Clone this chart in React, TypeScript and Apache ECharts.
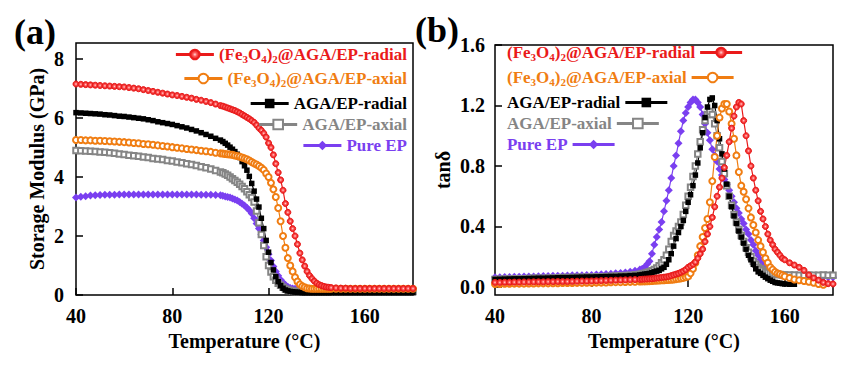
import React, { useEffect, useRef } from 'react';
import * as echarts from 'echarts';

// ---------- data ----------
const tempsA = [40,42,44,46,48,50,52,54,56,58,60,62,64,66,68,70,72,74,76,78,80,82,84,86,88,90,92,94,96,98,100,
  101,102,103,104,105,106,107,108,109,110,111,112,113,114,115,116,117,118,119,120,121,122,123,124,125,126,127,128,129,130,131,132,133,134,135,136,137,138,139,140,141,142,143,144,145,146,
  148,150,152,154,156,158,160,162,164,166,168,170,172,174,176,178,180];

const modFeRadial = [7.15,7.14,7.13,7.12,7.11,7.1,7.09,7.08,7.07,7.06,7.05,7.03,7.01,6.99,6.96,6.93,6.9,6.87,6.84,6.81,6.78,6.76,6.73,6.7,6.67,6.63,6.6,6.56,6.52,6.47,6.42,
  6.4,6.37,6.34,6.31,6.28,6.25,6.21,6.17,6.12,6.07,
  6.02,5.97,5.91,5.85,5.76,5.66,5.58,5.48,5.35,5.15,
  5.0,4.75,4.45,4.15,3.9,3.55,3.1,2.8,2.5,2.25,
  2.0,1.72,1.42,1.19,0.98,0.8,0.66,0.56,0.47,0.4,
  0.35,0.32,0.29,0.27,0.26,0.25,
  0.24,0.23,0.23,0.22,0.22,0.22,0.22,0.22,0.22,0.22,0.22,0.22,0.22,0.22,0.22,0.22,0.22];

const modFeAxial = [5.25,5.25,5.24,5.24,5.23,5.23,5.22,5.21,5.2,5.19,5.18,5.17,5.15,5.14,5.12,5.11,5.09,5.07,5.05,5.03,5.01,4.99,4.97,4.95,4.93,4.91,4.89,4.87,4.85,4.82,4.8,
  4.79,4.78,4.77,4.76,4.75,4.73,4.71,4.69,4.66,4.63,
  4.6,4.56,4.51,4.46,4.42,4.37,4.31,4.24,4.12,4.0,
  3.8,3.58,3.32,2.95,2.5,2.0,1.6,1.25,1.0,0.8,
  0.6,0.46,0.36,0.3,0.26,0.23,0.22,0.21,0.21,0.21,
  0.21,0.21,0.21,0.21,0.21,0.21,
  0.21,0.21,0.21,0.21,0.21,0.21,0.21,0.21,0.21,0.21,0.21,0.21,0.21,0.21,0.21,0.21,0.21];

const modAgaRadial = [6.18,6.17,6.16,6.15,6.14,6.13,6.11,6.1,6.08,6.06,6.05,6.03,6.01,5.99,5.97,5.94,5.91,5.87,5.84,5.81,5.78,5.74,5.7,5.66,5.61,5.56,5.5,5.44,5.38,5.31,5.25,
  5.2,5.14,5.08,5.01,4.94,4.86,4.77,4.66,4.52,4.38,
  4.23,4.02,3.78,3.52,3.25,2.98,2.6,2.25,1.85,1.45,
  1.1,0.85,0.62,0.45,0.32,0.23,0.17,0.14,0.12,0.11,
  0.1,0.09,0.09,0.08,0.08,0.08,0.08,0.08,0.08,0.08,
  0.08,0.08,0.08,0.08,0.08,0.08,
  0.08,0.08,0.08,0.08,0.08,0.08,0.08,0.08,0.08,0.08,0.08,0.08,0.08,0.08,0.08,0.08,0.08];

const modAgaAxial = [4.9,4.89,4.88,4.87,4.86,4.85,4.84,4.82,4.8,4.78,4.76,4.74,4.72,4.7,4.68,4.66,4.63,4.61,4.59,4.56,4.54,4.51,4.48,4.45,4.42,4.39,4.35,4.31,4.27,4.22,4.17,
  4.14,4.1,4.06,4.0,3.94,3.88,3.82,3.75,3.68,3.6,
  3.5,3.4,3.3,3.15,2.85,2.45,2.05,1.68,1.3,1.0,
  0.78,0.62,0.5,0.4,0.33,0.26,0.2,0.17,0.15,0.13,
  0.12,0.12,0.12,0.12,0.12,0.12,0.12,0.12,0.12,0.12,
  0.12,0.12,0.12,0.12,0.12,0.12,
  0.12,0.12,0.12,0.12,0.12,0.12,0.12,0.12,0.12,0.12,0.12,0.12,0.12,0.12,0.12,0.12,0.12];

const modPureEP = [3.3,3.33,3.35,3.37,3.38,3.39,3.4,3.4,3.4,3.41,3.41,3.41,3.41,3.41,3.41,3.41,3.41,3.41,3.41,3.41,3.41,3.41,3.41,3.41,3.41,3.41,3.4,3.4,3.4,3.39,3.38,
  3.36,3.34,3.32,3.3,3.27,3.24,3.2,3.15,3.09,3.03,
  2.96,2.87,2.76,2.6,2.42,2.25,2.05,1.85,1.62,1.38,
  1.17,0.97,0.8,0.65,0.52,0.42,0.34,0.28,0.24,0.22,
  0.21,0.2,0.2,0.2,0.2,0.2,0.2,0.2,0.2,0.2,
  0.2,0.2,0.21,0.21,0.21,0.21,
  0.21,0.21,0.21,0.21,0.21,0.21,0.21,0.21,0.21,0.21,0.21,0.21,0.21,0.21,0.21,0.21,0.21];

const tempsB = [40,42,44,46,48,50,52,54,56,58,60,62,64,66,68,70,72,74,76,78,80,82,84,86,88,90,92,94,96,98,100,
  101,102,103,104,105,106,107,108,109,110,111,112,113,114,115,116,117,118,119,120,
  121,122,123,124,125,126,127,128,129,130,131,132,133,134,135,136,137,138,139,140,
  141,142,143,144,145,146,147,148,149,150,151,152,153,154,155,156,157,158,159,160,
  162,164,166,168,170,172,174,176,178,180];

const tanFeRadial = [0.03,0.03,0.031,0.031,0.032,0.032,0.033,0.033,0.034,0.034,0.034,0.035,0.035,0.036,0.036,0.036,0.037,0.038,0.039,0.039,0.04,0.041,0.042,0.043,0.044,0.045,0.046,0.047,0.048,0.049,0.05,
  0.051,0.052,0.053,0.054,0.055,0.057,0.059,0.061,0.063,0.065,
  0.067,0.07,0.075,0.08,0.085,0.09,0.097,0.105,0.115,0.13,
  0.14,0.15,0.165,0.19,0.22,0.25,0.3,0.35,0.4,0.46,
  0.53,0.6,0.66,0.72,0.79,0.87,0.96,1.05,1.13,1.19,
  1.22,1.21,1.1,1.0,0.9,0.8,0.72,0.64,0.57,0.5,
  0.45,0.4,0.35,0.31,0.28,0.25,0.23,0.21,0.19,0.18,
  0.16,0.145,0.13,0.11,0.08,0.06,0.045,0.03,0.022,0.02];

const tanFeAxial = [0.02,0.02,0.021,0.021,0.022,0.022,0.022,0.023,0.023,0.024,0.024,0.024,0.025,0.025,0.026,0.026,0.026,0.027,0.027,0.028,0.028,0.029,0.029,0.03,0.031,0.032,0.032,0.033,0.034,0.035,0.036,
  0.037,0.037,0.038,0.039,0.04,0.041,0.042,0.043,0.044,0.045,
  0.046,0.047,0.048,0.05,0.052,0.055,0.057,0.06,0.065,0.07,
  0.09,0.12,0.16,0.21,0.27,0.33,0.39,0.45,0.56,0.7,
  0.86,1.0,1.12,1.18,1.21,1.21,1.16,1.08,0.98,0.87,
  0.76,0.67,0.63,0.58,0.52,0.46,0.41,0.36,0.31,0.27,
  0.23,0.19,0.16,0.13,0.115,0.1,0.09,0.085,0.078,0.07,
  0.06,0.05,0.045,0.04,0.035,0.028,0.02,0.015,null,null];

const tanAgaRadial = [0.05,0.051,0.052,0.053,0.054,0.054,0.055,0.056,0.057,0.058,0.058,0.059,0.06,0.061,0.062,0.062,0.063,0.064,0.065,0.066,0.066,0.067,0.068,0.069,0.07,0.07,0.072,0.073,0.075,0.077,0.08,
  0.082,0.085,0.087,0.09,0.095,0.1,0.105,0.11,0.12,0.13,
  0.15,0.18,0.22,0.27,0.32,0.36,0.4,0.44,0.5,0.56,
  0.61,0.67,0.74,0.82,0.92,1.02,1.12,1.19,1.24,1.25,
  1.2,1.1,0.98,0.88,0.78,0.68,0.6,0.53,0.47,0.42,
  0.37,0.33,0.29,0.25,0.21,0.18,0.15,0.12,0.1,0.09,
  0.077,0.065,0.055,0.045,0.038,0.03,0.027,0.025,0.022,0.02,
  0.018,0.018,null,null,null,null,null,null,null,null];

const tanAgaAxial = [0.05,0.051,0.052,0.053,0.054,0.054,0.055,0.056,0.057,0.058,0.058,0.059,0.06,0.061,0.062,0.062,0.063,0.064,0.065,0.066,0.066,0.067,0.068,0.07,0.071,0.072,0.074,0.076,0.078,0.081,0.085,
  0.088,0.09,0.095,0.1,0.107,0.115,0.125,0.14,0.16,0.18,
  0.21,0.25,0.3,0.34,0.37,0.4,0.43,0.48,0.54,0.6,
  0.66,0.73,0.8,0.88,0.96,1.04,1.1,1.14,1.16,1.14,
  1.08,1.0,0.92,0.83,0.75,0.67,0.6,0.54,0.48,0.43,
  0.38,0.34,0.3,0.26,0.23,0.2,0.17,0.15,0.13,0.12,
  0.11,0.1,0.095,0.09,0.087,0.085,0.083,0.082,0.08,0.08,
  0.08,0.079,0.078,0.078,0.077,0.077,0.078,0.079,0.078,0.077];

const tanPureEP = [0.064,0.065,0.066,0.066,0.067,0.068,0.069,0.07,0.07,0.071,0.072,0.073,0.074,0.074,0.075,0.076,0.077,0.078,0.078,0.079,0.08,0.082,0.084,0.086,0.088,0.09,0.093,0.096,0.1,0.107,0.115,
  0.12,0.13,0.15,0.17,0.22,0.28,0.33,0.38,0.43,0.5,
  0.57,0.64,0.72,0.8,0.87,0.95,1.03,1.1,1.15,1.19,
  1.22,1.24,1.24,1.22,1.19,1.14,1.08,1.02,0.97,0.91,
  0.87,0.83,0.78,0.74,0.71,0.68,0.64,0.6,0.56,0.52,
  0.49,0.45,0.42,0.38,0.35,0.31,0.28,0.24,0.21,0.18,
  0.16,0.14,0.125,0.11,0.1,0.095,0.09,0.085,0.08,0.075,
  0.073,0.071,0.07,0.069,0.068,0.067,0.066,0.065,0.065,0.065];

const xTicks = [40, 80, 120, 160];
const yTicksA = [0, 2, 4, 6, 8];
const yTicksB = [0, 0.4, 0.8, 1.2, 1.6];

const NAME_FE_R = '(Fe3O4)2@AGA/EP-radial';
const NAME_FE_A = '(Fe3O4)2@AGA/EP-axial';
const NAME_AGA_R = 'AGA/EP-radial';
const NAME_AGA_A = 'AGA/EP-axial';
const NAME_PURE = 'Pure EP';
const legendOrder = [NAME_FE_R, NAME_FE_A, NAME_AGA_R, NAME_AGA_A, NAME_PURE];

// ---------- styles ----------
const FONT = "'Liberation Serif', 'Times New Roman', serif";
const RED = '#ea1a1a';
const ORANGE = '#f07d12';
const BLACK = '#000000';
const GRAY = '#858585';
const PURPLE = '#7a3ff0';
const textColors: Record<string, string> = {
  [NAME_FE_R]: RED, [NAME_FE_A]: ORANGE, [NAME_AGA_R]: BLACK, [NAME_AGA_A]: GRAY, [NAME_PURE]: PURPLE,
};

const redFill = {
  type: 'radial', x: 0.5, y: 0.5, r: 0.5,
  colorStops: [
    { offset: 0, color: '#ffd8d8' },
    { offset: 0.4, color: '#ff5a5a' },
    { offset: 1, color: '#e01010' },
  ],
};

const seriesStyle: Record<string, any> = {
  [NAME_FE_R]: { symbol: 'circle', symbolSize: 6, itemStyle: { color: redFill, borderColor: RED, borderWidth: 1 }, lineStyle: { color: RED, width: 1.2 } },
  [NAME_FE_A]: { symbol: 'emptyCircle', symbolSize: 6, itemStyle: { color: ORANGE, borderWidth: 1.3 }, lineStyle: { color: ORANGE, width: 1.2 } },
  [NAME_AGA_R]: { symbol: 'rect', symbolSize: 5.5, itemStyle: { color: BLACK }, lineStyle: { color: BLACK, width: 1.2 } },
  [NAME_AGA_A]: { symbol: 'emptyRect', symbolSize: 5.5, itemStyle: { color: GRAY, borderWidth: 1.2 }, lineStyle: { color: GRAY, width: 1.2 } },
  [NAME_PURE]: { symbol: 'diamond', symbolSize: 8, itemStyle: { color: PURPLE }, lineStyle: { color: PURPLE, width: 1.2 } },
};

function pairs(xs: number[], ys: (number | null)[]) {
  const out: number[][] = [];
  xs.forEach((x, i) => { const y = ys[i]; if (y !== null && y !== undefined) out.push([x, y]); });
  return out;
}

function mk(name: string, idx: number, xs: number[], ys: (number | null)[]) {
  return {
    type: 'line', name, xAxisIndex: idx, yAxisIndex: idx,
    data: pairs(xs, ys),
    showSymbol: true, showAllSymbol: true, clip: true,
    ...seriesStyle[name],
  };
}

const fmtName = (n: string) => n.replace('(Fe3O4)2', '(Fe{s|3}O{s|4}){s|2}');

function legendText(color: string) {
  return {
    fontFamily: FONT, fontWeight: 'bold', fontSize: 17, color,
    rich: { s: { fontFamily: FONT, fontWeight: 'bold', fontSize: 11, color, padding: [8, 0, 0, 0] } },
  };
}

const axisLabelStyle = { fontFamily: FONT, fontWeight: 'bold', fontSize: 20, color: '#000' };
const nameStyle = { fontFamily: FONT, fontWeight: 'bold', fontSize: 20, color: '#000' };
const tickStyle = { show: true, inside: true, length: 7, lineStyle: { color: '#000', width: 1.5 } };

export default function App() {
  const ref = useRef<HTMLDivElement>(null);
  useEffect(() => {
    document.body.style.margin = '0';
    if (!ref.current) return;
    const chart = echarts.init(ref.current, null, { renderer: 'svg' });

    const rowTops = [46, 70, 95, 116, 137];
    const legendsA = legendOrder.map((n, i) => ({
      orient: 'horizontal', right: 446, top: rowTops[i], padding: 0,
      itemWidth: 38, itemHeight: 12, itemGap: 0, selectedMode: false, align: 'left',
      data: [{ name: n, textStyle: legendText(textColors[n]) }],
      formatter: fmtName,
      lineStyle: { width: 3 },
    }));
    const rowTopsB = [44, 69, 94, 115, 136];
    const legendsB = legendOrder.map((n, i) => ({
      orient: 'horizontal', left: 507, top: rowTopsB[i], padding: 0,
      itemWidth: 42, itemHeight: 12, itemGap: 0, selectedMode: false, align: 'right',
      data: [{ name: n, textStyle: legendText(textColors[n]) }],
      formatter: fmtName,
      lineStyle: { width: 3 },
    }));

    const seriesOrder = [NAME_PURE, NAME_AGA_A, NAME_AGA_R, NAME_FE_A, NAME_FE_R];
    const dataA: Record<string, number[]> = {
      [NAME_FE_R]: modFeRadial, [NAME_FE_A]: modFeAxial, [NAME_AGA_R]: modAgaRadial, [NAME_AGA_A]: modAgaAxial, [NAME_PURE]: modPureEP,
    };
    const dataB: Record<string, (number | null)[]> = {
      [NAME_FE_R]: tanFeRadial, [NAME_FE_A]: tanFeAxial, [NAME_AGA_R]: tanAgaRadial, [NAME_AGA_A]: tanAgaAxial, [NAME_PURE]: tanPureEP,
    };

    const xAxisBase = (gi: number) => ({
      type: 'value', gridIndex: gi, min: 40, max: 180,
      axisLine: { show: false },
      axisTick: { ...tickStyle, customValues: xTicks },
      axisLabel: { ...axisLabelStyle, margin: 11, customValues: xTicks },
      splitLine: { show: false },
      name: 'Temperature (°C)', nameLocation: 'middle', nameGap: 32, nameTextStyle: nameStyle,
    });

    chart.setOption({
      animation: false,
      backgroundColor: '#fff',
      grid: [
        { left: 76, top: 43, width: 337, height: 252, show: true, borderColor: '#000', borderWidth: 1.5, backgroundColor: 'transparent' },
        { left: 495, top: 45, width: 338, height: 250, show: true, borderColor: '#000', borderWidth: 1.5, backgroundColor: 'transparent' },
      ],
      xAxis: [xAxisBase(0), xAxisBase(1)],
      yAxis: [
        {
          type: 'value', gridIndex: 0, min: 0, max: 8.54,
          axisLine: { show: false },
          axisTick: { ...tickStyle, customValues: yTicksA },
          axisLabel: { ...axisLabelStyle, margin: 12, customValues: yTicksA },
          splitLine: { show: false },
          name: 'Storage Modulus (GPa)', nameLocation: 'middle', nameGap: 29,
          nameTextStyle: { ...nameStyle, fontSize: 20 },
        },
        {
          type: 'value', gridIndex: 1, min: -0.053, max: 1.6,
          axisLine: { show: false },
          axisTick: { ...tickStyle, customValues: yTicksB },
          axisLabel: { ...axisLabelStyle, margin: 10, customValues: yTicksB, formatter: (v: number) => v.toFixed(1) },
          splitLine: { show: false },
          name: 'tanδ', nameLocation: 'middle', nameGap: 42, nameTextStyle: nameStyle,
        },
      ],
      legend: [...legendsA, ...legendsB],
      graphic: [
        { type: 'text', left: 14, top: 14, style: { text: '(a)', fontFamily: FONT, fontWeight: 'bold', fontSize: 36, fill: '#000' } },
        { type: 'text', left: 415, top: 12, style: { text: '(b)', fontFamily: FONT, fontWeight: 'bold', fontSize: 36, fill: '#000' } },
      ],
      series: [
        ...seriesOrder.map((n) => mk(n, 0, tempsA, dataA[n])),
        ...seriesOrder.map((n) => mk(n, 1, tempsB, dataB[n])),
      ],
    });
    return () => chart.dispose();
  }, []);
  return <div ref={ref} style={{ width: 853, height: 369 }} />;
}
